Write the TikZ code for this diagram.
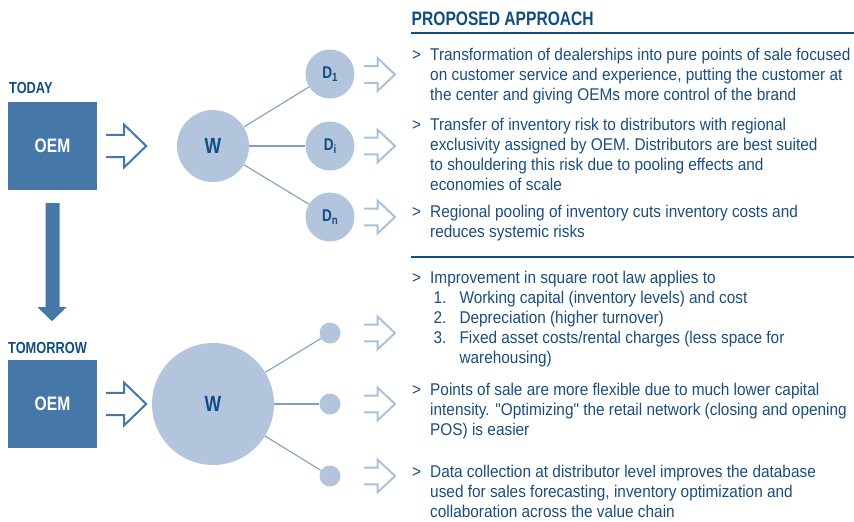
\documentclass[tikz,border=0pt]{standalone}
\usepackage{fontspec}
\setmainfont{Liberation Sans}
\newfontfamily\bodyfont[FakeStretch=0.905]{Liberation Sans}
\newfontfamily\headfont[FakeStretch=0.8]{Liberation Sans}
\usetikzlibrary{calc}
\definecolor{boxblue}{HTML}{4578A8}
\definecolor{circfill}{HTML}{B2C5DD}
\definecolor{linecol}{HTML}{7F9FC6}
\definecolor{lightarrow}{HTML}{A9C0DB}
\definecolor{headblue}{HTML}{0F4D82}
\definecolor{bodyblue}{HTML}{1A4D80}
\tikzset{
  oembox/.style={fill=boxblue, minimum width=89pt, minimum height=88pt, inner sep=0pt,
    text=white, font=\headfont\bfseries\fontsize{19.5}{20}\selectfont},
  wnode/.style={circle, fill=circfill, inner sep=0pt, text=headblue,
    font=\headfont\bfseries\fontsize{22}{22}\selectfont},
  dnode/.style={circle, fill=circfill, minimum size=49pt, inner sep=0pt, text=headblue,
    font=\headfont\bfseries\fontsize{17}{17}\selectfont},
  dotnode/.style={circle, fill=circfill, minimum size=21pt, inner sep=0pt},
  link/.style={draw=linecol, line width=1.1pt},
  stagelabel/.style={anchor=base west, inner sep=0pt, text=headblue,
    font=\headfont\bfseries\fontsize{16}{16}\selectfont},
  bodytext/.style={anchor=north west, inner sep=0pt, align=left, text=bodyblue,
    font=\bodyfont\fontsize{17}{20}\selectfont},
  gtmark/.style={anchor=base west, inner sep=0pt, text=bodyblue,
    font=\bodyfont\fontsize{17}{20}\selectfont},
  bigarrow/.style={draw=boxblue, line width=2pt, miter limit=10},
  smallarrow/.style={draw=lightarrow, line width=2pt, miter limit=10},
  pics/hollowbig/.style={code={
    \draw[pic actions] (0,-11.2) -- (18,-11.2) -- (18,-21.3) -- (40,0) -- (18,21.3) -- (18,11.2) -- (0,11.2);}},
  pics/hollowsmall/.style={code={
    \draw[pic actions] (0,-8.3) -- (13.5,-8.3) -- (13.5,-16.5) -- (31,0) -- (13.5,16.5) -- (13.5,8.3) -- (0,8.3);}},
}
\newcommand{\dsub}[1]{D\raisebox{-3.5pt}{\fontsize{12}{12}\selectfont #1}}
\begin{document}
\begin{tikzpicture}[x=1pt,y=-1pt]
\useasboundingbox (0,0) rectangle (854,522);

% ---------- TODAY ----------
\node[stagelabel] (today) at (9,93.3) {TODAY};
\node[oembox] (oem1) at (52.5,146) {OEM};
\pic[bigarrow] at ([xshift=9pt]oem1.east) {hollowbig};
\node[wnode, minimum size=72pt] (w1) at (213,146) {W};
\node[dnode] (d1) at (330,74) {\dsub{1}};
\node[dnode] (di) at (330,146) {\dsub{i}};
\node[dnode] (dn) at (330,217) {\dsub{n}};
\draw[link] (w1) -- (d1);
\draw[link] (w1) -- (di);
\draw[link] (w1) -- (dn);
\pic[smallarrow] at (364,74.5) {hollowsmall};
\pic[smallarrow] at (364,146) {hollowsmall};
\pic[smallarrow] at (364,217) {hollowsmall};

% ---------- down arrow ----------
\fill[boxblue] ([xshift=-7pt,yshift=-13pt]oem1.south) -- ++(14,0) -- ++(0,104) -- ++(7,0)
  -- ++(-14.5,14) -- ++(-14.5,-14) -- ++(8,0) -- cycle;

% ---------- TOMORROW ----------
\node[stagelabel] (tomorrow) at (8,353) {TOMORROW};
\node[oembox] (oem2) at (52.5,404) {OEM};
\pic[bigarrow] at ([xshift=9pt]oem2.east) {hollowbig};
\node[wnode, minimum size=122pt] (w2) at (213,404) {W};
\node[dotnode] (p1) at (330,333) {};
\node[dotnode] (p2) at (330,404) {};
\node[dotnode] (p3) at (330,476) {};
\draw[link] (w2) -- (p1);
\draw[link] (w2) -- (p2);
\draw[link] (w2) -- (p3);
\pic[smallarrow] at (364,333) {hollowsmall};
\pic[smallarrow] at (364,404) {hollowsmall};
\pic[smallarrow] at (364,476) {hollowsmall};

% ---------- right text ----------
\node[anchor=base west, inner sep=0pt, text=headblue,
  font=\headfont\bfseries\fontsize{19.5}{20}\selectfont] (title) at (411.5,25.7) {PROPOSED APPROACH};
\draw[headblue, line width=2pt] (411,32.5) -- (854,32.5);

\node[gtmark] (g1) at (412,60) {>};
\node[bodytext] (t1) at (430,46) {\strut Transformation of dealerships into pure points of sale focused\\
on customer service and experience, putting the customer at\\
the center and giving OEMs more control of the brand};
\node[gtmark] (g2) at (412,130) {>};
\node[bodytext] (t2) at (430,116) {\strut Transfer of inventory risk to distributors with regional\\
exclusivity assigned by OEM. Distributors are best suited\\
to shouldering this risk due to pooling effects and\\
economies of scale};
\node[gtmark] (g3) at (412,217.3) {>};
\node[bodytext] (t3) at (430,203.3) {\strut Regional pooling of inventory cuts inventory costs and\\
reduces systemic risks};

\draw[headblue, line width=2pt] (411,256.7) -- (854,256.7);

\node[gtmark] (g4) at (412,283.3) {>};
\node[bodytext] (t4) at (430,269.3) {\strut Improvement in square root law applies to};
\node[gtmark] (n1) at (433.3,303.3) {1.};
\node[bodytext] (t41) at (459.3,289.3) {\strut Working capital (inventory levels) and cost};
\node[gtmark] (n2) at (433.3,323.3) {2.};
\node[bodytext] (t42) at (459.3,309.3) {\strut Depreciation (higher turnover)};
\node[gtmark] (n3) at (433.3,343.3) {3.};
\node[bodytext] (t43) at (459.3,329.3) {\strut Fixed asset costs/rental charges (less space for\\
warehousing)};
\node[gtmark] (g5) at (412,395) {>};
\node[bodytext] (t5) at (430,381) {\strut Points of sale are more flexible due to much lower capital\\
intensity. "Optimizing" the retail network (closing and opening\\
POS) is easier};
\node[gtmark] (g6) at (412,477.7) {>};
\node[bodytext] (t6) at (430,463.7) {\strut Data collection at distributor level improves the database\\
used for sales forecasting, inventory optimization and\\
collaboration across the value chain};
\end{tikzpicture}
\end{document}
